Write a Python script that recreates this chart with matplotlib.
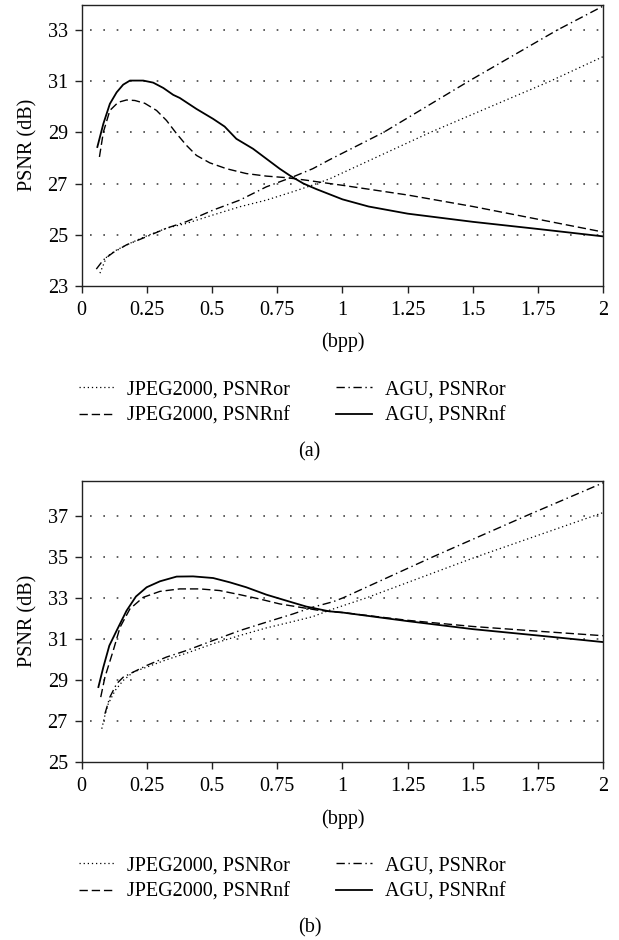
import matplotlib
matplotlib.use("Agg")
import matplotlib.pyplot as plt

plt.rcParams['font.family'] = ['Liberation Serif', 'DejaVu Serif']

# ---------------- data: panel (a) ----------------
agu_nf_a_x = [0.06, 0.083, 0.108, 0.134, 0.159, 0.185, 0.236, 0.274, 0.313, 0.351, 0.376, 0.44, 0.504,
              0.548, 0.593, 0.657, 0.708, 0.759, 0.8, 0.85, 0.9, 0.95, 1.0, 1.1, 1.25, 1.5, 1.75, 2.0]
agu_nf_a_y = [28.43, 29.34, 30.12, 30.57, 30.87, 31.03, 31.03, 30.95, 30.74, 30.47, 30.35, 29.92, 29.53,
              29.23, 28.75, 28.36, 27.97, 27.58, 27.3, 27.0, 26.78, 26.58, 26.38, 26.1, 25.82, 25.5, 25.22, 24.93]
jpeg_nf_a_x = [0.068, 0.083, 0.108, 0.14, 0.172, 0.204, 0.242, 0.287, 0.325, 0.364, 0.402, 0.44, 0.491,
               0.555, 0.631, 0.708, 0.784, 0.861, 0.95, 1.0, 1.25, 1.5, 1.75, 2.0]
jpeg_nf_a_y = [28.04, 29.01, 29.86, 30.18, 30.27, 30.25, 30.14, 29.86, 29.47, 28.95, 28.49, 28.1, 27.81,
               27.58, 27.39, 27.29, 27.23, 27.13, 27.0, 26.93, 26.55, 26.1, 25.6, 25.1]
agu_or_a_x = [0.056, 0.083, 0.121, 0.172, 0.249, 0.325, 0.402, 0.504, 0.606, 0.708, 0.81, 0.886, 0.952,
              1.157, 1.483, 1.822, 2.0]
agu_or_a_y = [23.65, 24.01, 24.3, 24.6, 24.92, 25.25, 25.51, 25.96, 26.35, 26.87, 27.26, 27.58, 27.94,
              29.0, 31.0, 33.0, 33.95]
jpeg_or_a_x = [0.07, 0.096, 0.134, 0.185, 0.249, 0.325, 0.402, 0.504, 0.606, 0.708, 0.81, 0.886, 0.952,
               1.336, 1.795, 2.0]
jpeg_or_a_y = [23.49, 24.14, 24.4, 24.66, 24.95, 25.25, 25.44, 25.77, 26.09, 26.35, 26.68, 26.94, 27.19,
               29.0, 31.0, 31.97]

# ---------------- data: panel (b) ----------------
agu_nf_b_x = [0.064, 0.083, 0.106, 0.134, 0.172, 0.208, 0.249, 0.3, 0.364, 0.427, 0.504, 0.568, 0.631,
              0.708, 0.784, 0.861, 0.948, 1.0, 1.25, 1.5, 1.75, 2.0]
agu_nf_b_y = [28.65, 29.62, 30.67, 31.4, 32.37, 33.06, 33.51, 33.8, 34.03, 34.04, 33.96, 33.75, 33.51,
              33.15, 32.86, 32.57, 32.34, 32.28, 31.86, 31.47, 31.16, 30.84]
jpeg_nf_b_x = [0.073, 0.089, 0.121, 0.147, 0.185, 0.236, 0.3, 0.376, 0.453, 0.529, 0.606, 0.682, 0.759,
               0.835, 0.912, 1.0, 1.25, 1.5, 1.75, 2.0]
jpeg_nf_b_y = [28.16, 29.13, 30.43, 31.56, 32.46, 33.02, 33.31, 33.43, 33.43, 33.35, 33.15, 32.94, 32.7,
               32.54, 32.38, 32.28, 31.9, 31.6, 31.37, 31.15]
agu_or_b_x = [0.089, 0.108, 0.134, 0.159, 0.198, 0.249, 0.325, 0.402, 0.504, 0.606, 0.708, 0.81, 0.886,
              0.965, 1.003, 1.348, 1.706, 2.0]
agu_or_b_y = [27.35, 28.16, 28.81, 29.13, 29.38, 29.7, 30.11, 30.43, 30.92, 31.4, 31.81, 32.21, 32.54,
              32.81, 33.0, 35.0, 37.0, 38.6]
jpeg_or_b_x = [0.077, 0.089, 0.102, 0.128, 0.159, 0.198, 0.249, 0.325, 0.402, 0.504, 0.606, 0.708, 0.81,
               0.886, 0.952, 1.093, 1.515, 2.0]
jpeg_or_b_y = [26.62, 27.27, 27.84, 28.48, 28.97, 29.38, 29.62, 29.98, 30.3, 30.76, 31.16, 31.53, 31.84,
               32.08, 32.4, 33.0, 35.0, 37.15]

x_ticks = [0, 0.25, 0.5, 0.75, 1, 1.25, 1.5, 1.75, 2]
x_tick_labels = ["0", "0.25", "0.5", "0.75", "1", "1.25", "1.5", "1.75", "2"]
y_ticks_a = [23, 25, 27, 29, 31, 33]
y_ticks_b = [25, 27, 29, 31, 33, 35, 37]
labels = ["JPEG2000, PSNRor", "JPEG2000, PSNRnf", "AGU, PSNRor", "AGU, PSNRnf"]
panel_labels = ["(a)", "(b)"]

W, H = 619, 940
fig = plt.figure(figsize=(W / 100, H / 100), dpi=100)

FS = 14.5
styles = [
    dict(linestyle=(0, (1, 2.3)), linewidth=0.9),
    dict(linestyle=(0, (6, 2.8)), linewidth=1.0),
    dict(linestyle=(0, (6, 2.6, 1, 2.6)), linewidth=1.0),
    dict(linestyle='-', linewidth=1.3),
]


def make_panel(rect, series, yticks, ylim, legend_y, panel_y, plabel):
    ax = fig.add_axes(rect)
    handles = []
    for (xs, ys), st, lab in zip(series, styles, labels):
        h, = ax.plot(xs, ys, color='black', label=lab, **st)
        handles.append(h)
    ax.set_xlim(0, 2)
    ax.set_ylim(*ylim)
    ax.set_xticks(x_ticks)
    ax.set_xticklabels(x_tick_labels)
    ax.set_yticks(yticks)
    ax.tick_params(axis='both', direction='out', length=5, width=1.0, labelsize=FS, color='#222222')
    ax.tick_params(axis='x', pad=6)
    ax.tick_params(axis='y', pad=5)
    for s in ax.spines.values():
        s.set_linewidth(1.0)
        s.set_color('#222222')
    for yv in yticks[1:]:
        ax.axhline(yv, xmin=0.015, xmax=1.0, color='#444444', linestyle=(0, (1, 7)),
                   linewidth=1.2, zorder=0)
    ax.set_xlabel("(bpp)", fontsize=FS, labelpad=9)
    ax.set_ylabel("PSNR (dB)", fontsize=FS, labelpad=7)
    ax.legend(handles, labels, ncol=2, loc='center', fontsize=FS, frameon=False,
              bbox_to_anchor=(292 / W, legend_y), bbox_transform=fig.transFigure,
              handlelength=1.75, handletextpad=0.65, columnspacing=2.3, labelspacing=0.37,
              borderpad=0.0)
    fig.text(0.5, panel_y, plabel, ha='center', va='center', fontsize=FS)
    return ax


left = 81.7 / W
width = (603.3 - 81.7) / W

make_panel([left, 1 - 285.7 / H, width, (285.7 - 4.7) / H],
           [(jpeg_or_a_x, jpeg_or_a_y), (jpeg_nf_a_x, jpeg_nf_a_y),
            (agu_or_a_x, agu_or_a_y), (agu_nf_a_x, agu_nf_a_y)],
           y_ticks_a, (23, 34), 1 - 403.0 / H, 1 - 451.7 / H, panel_labels[0])

make_panel([left, 1 - 762.0 / H, width, (762.0 - 480.7) / H],
           [(jpeg_or_b_x, jpeg_or_b_y), (jpeg_nf_b_x, jpeg_nf_b_y),
            (agu_or_b_x, agu_or_b_y), (agu_nf_b_x, agu_nf_b_y)],
           y_ticks_b, (25, 38.7), 1 - 879.0 / H, 1 - 928.3 / H, panel_labels[1])

fig.savefig("out.png", dpi=100)
